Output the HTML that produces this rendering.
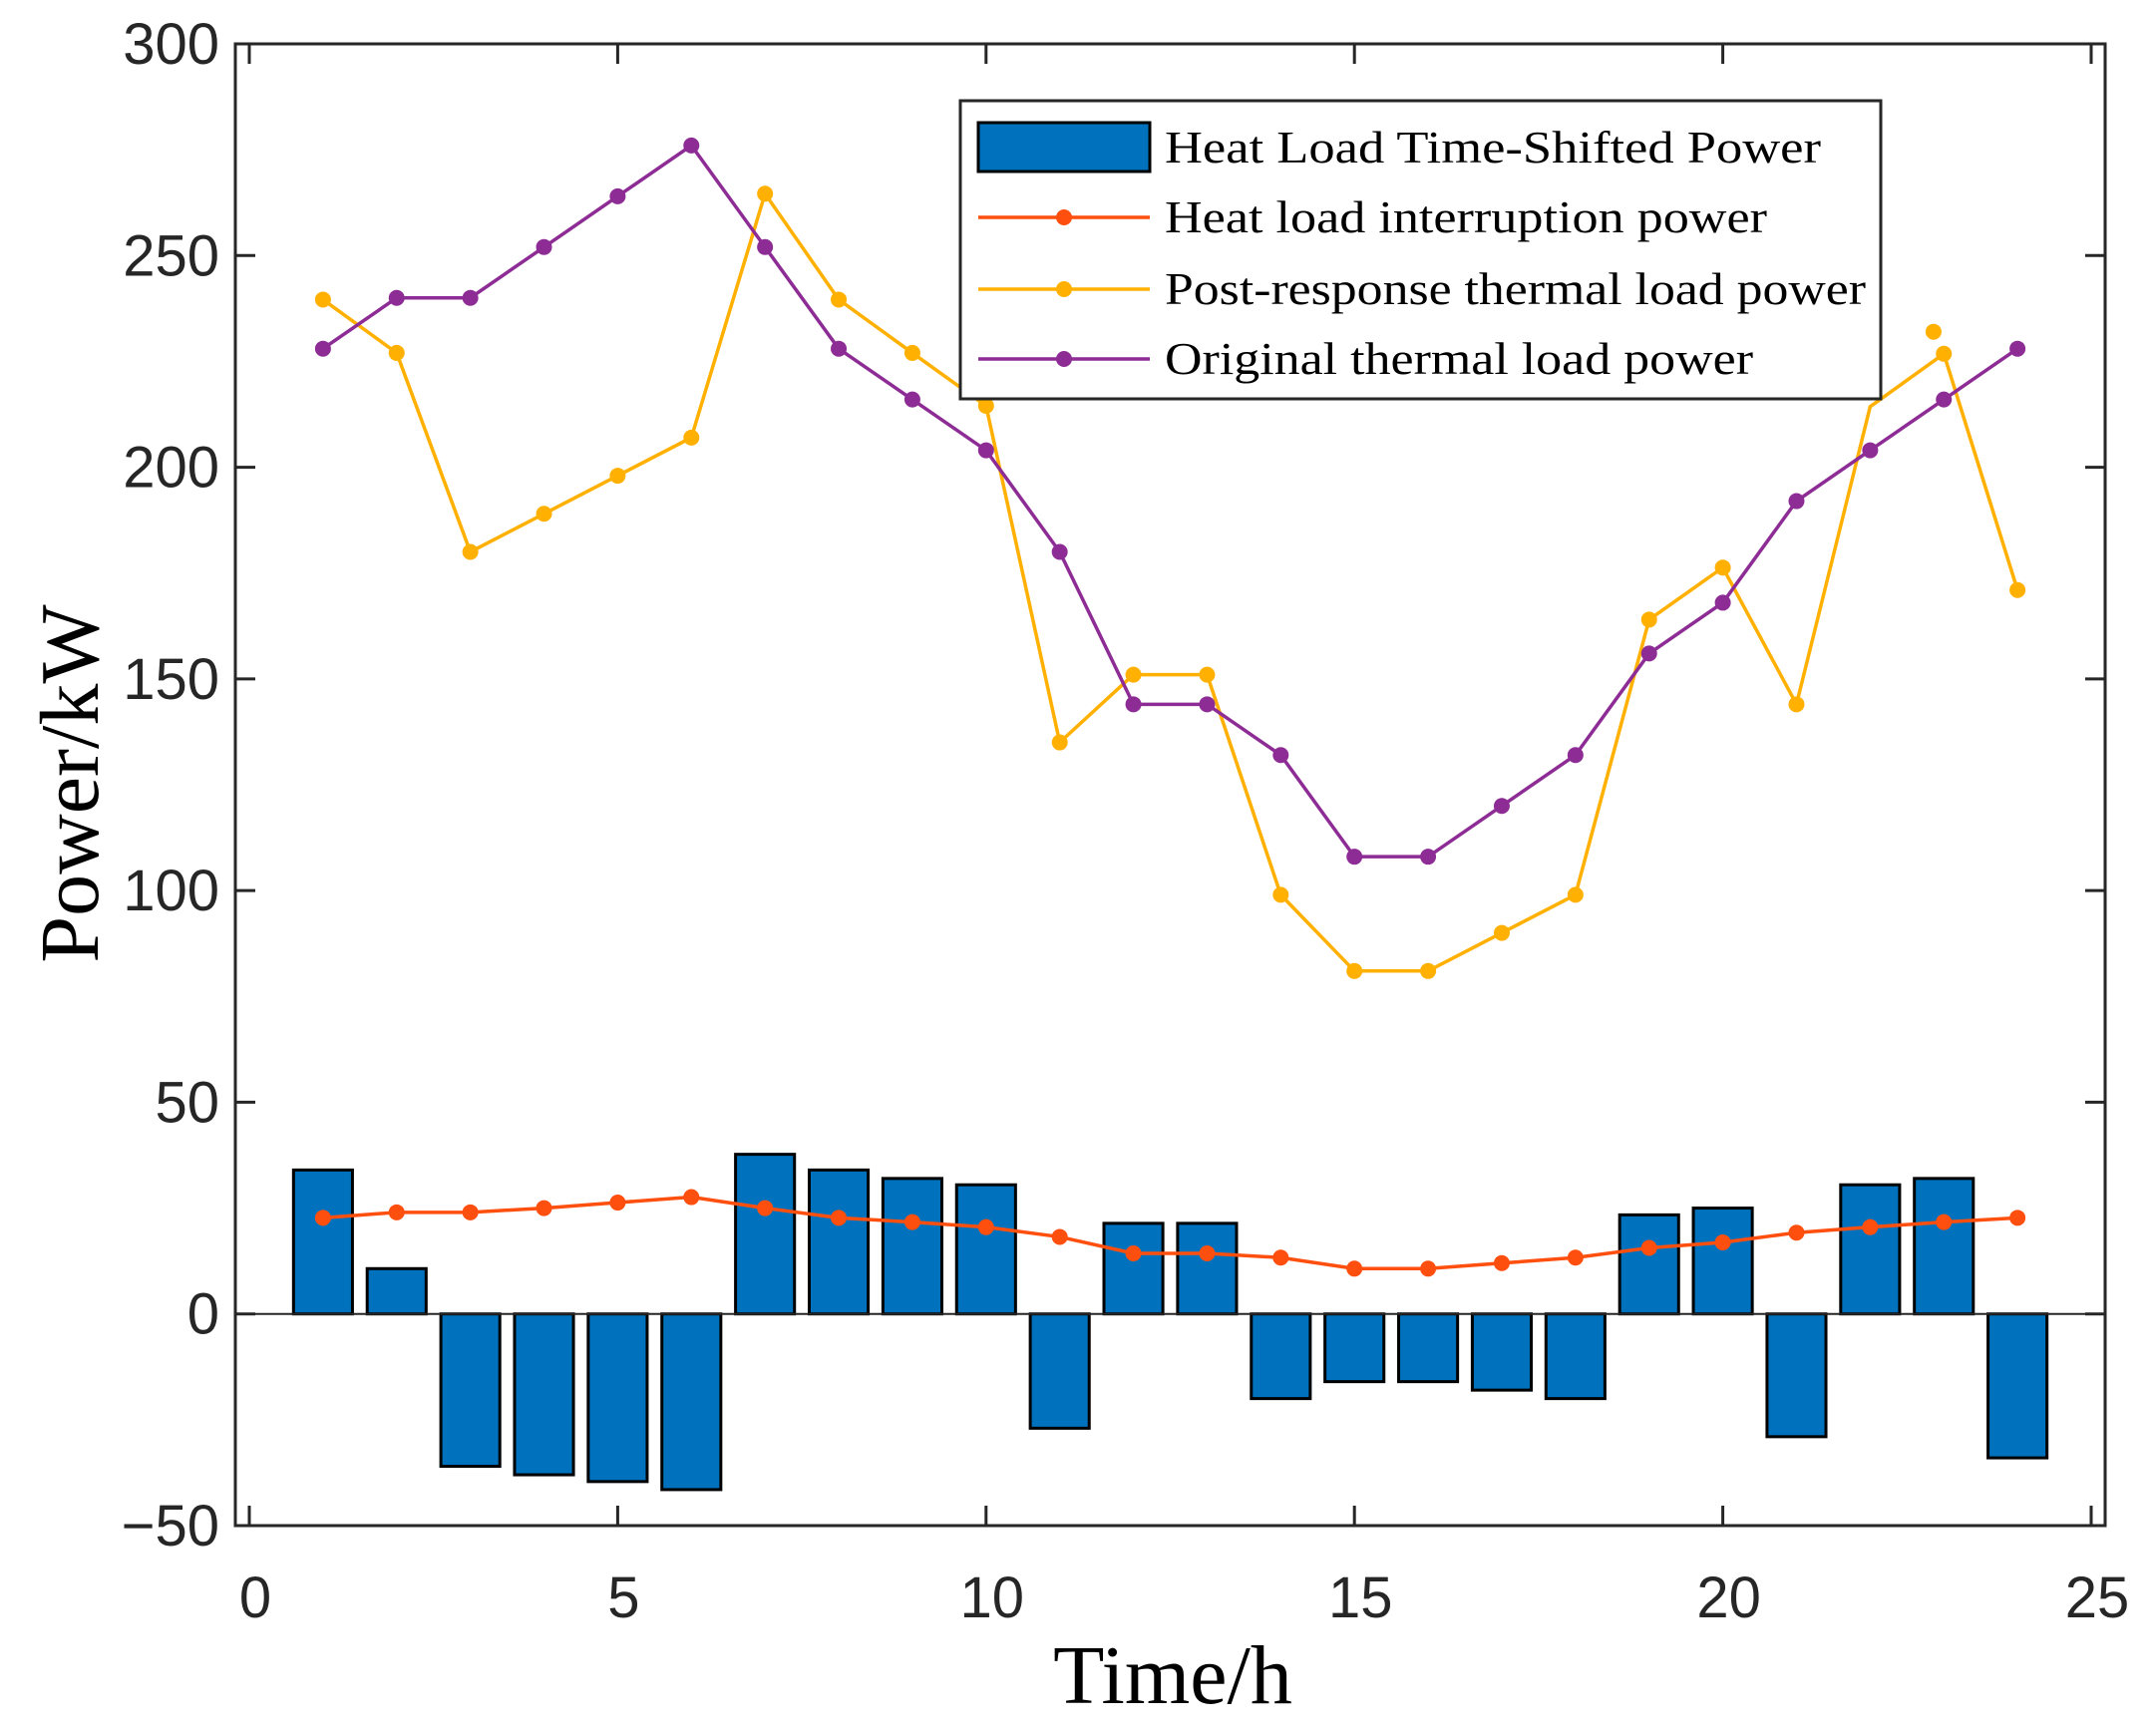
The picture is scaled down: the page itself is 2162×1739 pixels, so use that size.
<!DOCTYPE html>
<html><head><meta charset="utf-8"><style>
html,body{margin:0;padding:0;background:#fff;}
svg{display:block;}
.tick{font-family:"Liberation Sans",sans-serif;font-size:58px;fill:#262626;}
.ttl{font-family:"Liberation Serif",serif;font-size:84px;fill:#000;}
.leg{font-family:"Liberation Serif",serif;font-size:46px;fill:#000;}
</style></head><body>
<svg id="chart" width="2162" height="1739" viewBox="0 0 2162 1739" xmlns="http://www.w3.org/2000/svg"></svg>
<script>
const hours=[1,2,3,4,5,6,7,8,9,10,11,12,13,14,15,16,17,18,19,20,21,22,23,24];
const shifted=[34,10.7,-36,-38,-39.6,-41.5,37.7,34,32,30.5,-27,21.4,21.4,-20,-16,-16,-18,-20,23.4,25,-29,30.5,32,-34];
const interruption=[22.7,24,24,25,26.3,27.6,25,22.7,21.7,20.5,18.2,14.3,14.3,13.3,10.7,10.7,12,13.3,15.6,16.9,19.2,20.5,21.7,22.7];
const postResponse=[239.6,227,180,189,198,207,264.6,239.6,227,214.5,135,151,151,99,81,81,90,99,164,176.3,144,214.3,226.8,171];
const original=[228,240,240,252,264,276,252,228,216,204,180,144,144,132,108,108,120,132,156,168,192,204,216,228];
const extraPostX=[22.86];
const extraPostY=[232];
const xTicks=[0,5,10,15,20,25];
const yTicks=[-50,0,50,100,150,200,250,300];

const NS="http://www.w3.org/2000/svg";
const svg=document.getElementById('chart');
const L=236,R=2111,T=44,B=1530;
const xs=v=>250+v*(2097-250)/25;
const ys=v=>B-(v+50)*(B-T)/350;
function mk(tag,attrs,parent){const e=document.createElementNS(NS,tag);for(const k in attrs)e.setAttribute(k,attrs[k]);(parent||svg).appendChild(e);return e;}

const gb=mk('g',{});


hours.forEach((h,i)=>{
  const v=shifted[i];const y0=ys(0),y1=ys(v);
  const r=mk('rect',{x:xs(h-0.4),y:Math.min(y0,y1),width:xs(h+0.4)-xs(h-0.4),height:Math.abs(y1-y0),fill:'#0072bd',stroke:'#000','stroke-width':3},gb);
  
  
});
const zl=mk('line',{x1:L,x2:R,y1:ys(0),y2:ys(0),stroke:'#262626','stroke-width':2});



function series(vals,color,name,skip){
  const g=mk('g',{});
  
  
  mk('polyline',{points:hours.map((h,i)=>xs(h)+','+ys(vals[i])).join(' '),fill:'none',stroke:color,'stroke-width':3.5},g);
  hours.forEach((h,i)=>{
    if(skip&&skip.includes(h))return;
    const c=mk('circle',{cx:xs(h),cy:ys(vals[i]),r:8,fill:color},g);
    
    
  });
  return g;
}
series(interruption,'#ff4f0f','interruption-line');
const gp=series(postResponse,'#ffb000','post-response-line',[22]);
extraPostX.forEach((x,i)=>{
  const c=mk('circle',{cx:xs(x),cy:ys(extraPostY[i]),r:8,fill:'#ffb000'},gp);
  
  
});
series(original,'#8e2c95','original-line');

const ax=mk('g',{});


mk('rect',{x:L,y:T,width:R-L,height:B-T,fill:'none',stroke:'#262626','stroke-width':3},ax);
yTicks.forEach(v=>{
  const y=ys(v);
  mk('line',{x1:L,x2:L+20,y1:y,y2:y,stroke:'#262626','stroke-width':3},ax);
  mk('line',{x1:R,x2:R-20,y1:y,y2:y,stroke:'#262626','stroke-width':3},ax);
  const t=mk('text',{x:220,y:y+20,'text-anchor':'end',class:'tick'},ax);
  t.textContent=v<0?'\u2212'+Math.abs(v):v;
  
  
});
xTicks.forEach(v=>{
  const x=xs(v);
  mk('line',{x1:x,x2:x,y1:B,y2:B-20,stroke:'#262626','stroke-width':3},ax);
  mk('line',{x1:x,x2:x,y1:T,y2:T+20,stroke:'#262626','stroke-width':3},ax);
  const t=mk('text',{x:x+6,y:1622,'text-anchor':'middle',class:'tick'},ax);
  t.textContent=v;
  
  
});
const xt=mk('text',{x:1176,y:1708,'text-anchor':'middle',class:'ttl'});
xt.textContent='Time/h';


const yt=mk('text',{x:0,y:0,'text-anchor':'middle',class:'ttl',transform:'translate(98,786) rotate(-90)'});
yt.textContent='Power/kW';



const lg=mk('g',{});


mk('rect',{x:963,y:101,width:923,height:299,fill:'#fff',stroke:'#262626','stroke-width':3},lg);
const legItems=[['Heat Load Time-Shifted Power','bar','#0072bd'],['Heat load interruption power','line','#ff4f0f'],['Post-response thermal load power','line','#ffb000'],['Original thermal load power','line','#8e2c95']];
const legY=[148,218,290,360];
legItems.forEach((it,i)=>{
  const y=legY[i];
  const e=mk('g',{},lg);
  
  
  if(it[1]==='bar')mk('rect',{x:981,y:y-25,width:172,height:49,fill:it[2],stroke:'#000','stroke-width':3},e);
  else{mk('line',{x1:981,x2:1153,y1:y,y2:y,stroke:it[2],'stroke-width':3.5},e);mk('circle',{cx:1067,cy:y,r:8,fill:it[2]},e);}
  const t=mk('text',{x:1168,y:y+15,class:'leg',textLength:(i==2?703:i==0?658:i==1?604:590),lengthAdjust:'spacingAndGlyphs'},e);
  t.textContent=it[0];
});
</script>
</body></html>
